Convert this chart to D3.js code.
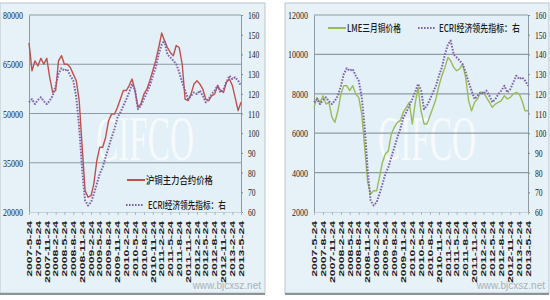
<!DOCTYPE html>
<html>
<head>
<meta charset="utf-8">
<script src="https://cdn.jsdelivr.net/npm/d3@7"></script>
<style>
  body { margin: 0; background: #fff; }
</style>
</head>
<body>
<div id="svgWrapper"></div>
<script>
const width = 550;
const height = 300;

// quarterly tick labels on the date axis
const tickLabels = [
    "2007-5-24", "2007-8-24", "2007-11-24", "2008-2-24", "2008-5-24", "2008-8-24",
    "2008-11-24", "2009-2-24", "2009-5-24", "2009-8-24", "2009-11-24", "2010-2-24",
    "2010-5-24", "2010-8-24", "2010-11-24", "2011-2-24", "2011-5-24", "2011-8-24",
    "2011-11-24", "2012-2-24", "2012-5-24", "2012-8-24", "2012-11-24", "2013-2-24",
    "2013-5-24"
];

// monthly readings, 2007-5 .. 2013-5
const shfeCopper = [
    71500, 63000, 66000, 64500, 66800, 65000, 66800, 61000, 56400, 57000, 66000, 67600,
    65000, 65000, 64000, 62000, 60000, 53900, 39700, 26500, 24500, 25000, 28500, 35600,
    39700, 39700, 42700, 47800, 49800, 49800, 51900, 54400, 57000, 57000, 58500, 60500,
    57000, 51900, 52900, 55900, 57400, 60000, 63000, 66100, 70100, 74500, 72200, 70100,
    68600, 67600, 70700, 70100, 65000, 54400, 53900, 55900, 59000, 60000, 59000, 57400,
    54400, 53900, 55400, 55900, 58500, 57000, 56400, 59500, 60500, 58500, 54900, 50900,
    53400
];

const lmeCopper = [
    7310, 7820, 7560, 7900, 7480, 7560, 6800, 6550, 7140, 7990, 8410, 8410,
    8160, 8410, 7990, 7820, 6975, 5280, 3500, 2910, 3080, 3080, 3760, 4520,
    4940, 5110, 5960, 6300, 6550, 6640, 7060, 7310, 7560, 6470, 7480, 8330,
    7140, 6470, 6470, 6890, 7310, 7740, 8410, 8920, 9340, 9850, 9680, 9340,
    9170, 9260, 9510, 8840, 7650, 7140, 7570, 7740, 8075, 8075, 7820, 7570,
    7310, 7480, 7570, 7650, 7905, 7740, 7820, 7990, 8075, 7990, 7650, 7140,
    7140
];

const ecriIndex = [
    115.7, 117.3, 114.8, 116.8, 118.2, 116.2, 114.8, 116.5, 119.0, 124.1, 130.0, 133.0,
    131.7, 132.5, 129.2, 126.7, 118.2, 103.0, 81.0, 65.8, 63.3, 65.0, 69.1, 74.2,
    79.3, 82.7, 87.8, 92.8, 97.9, 102.1, 108.0, 110.6, 114.0, 117.3, 120.7, 125.0,
    122.0, 112.2, 114.0, 117.3, 120.7, 124.0, 129.2, 133.4, 140.1, 145.0, 147.0, 140.0,
    138.5, 136.8, 135.1, 131.0, 125.8, 121.6, 117.3, 119.0, 120.7, 119.9, 121.6, 119.0,
    115.7, 117.3, 119.9, 121.6, 124.1, 120.7, 122.4, 125.8, 129.2, 127.5, 128.4, 126.7,
    124.1
];

const leftTicksA = [20000, 35000, 50000, 65000, 80000];
const leftTicksB = [2000, 4000, 6000, 8000, 10000, 12000];
const rightTicks = [60, 70, 80, 90, 100, 110, 120, 130, 140, 150, 160];

const parse = d3.timeParse("%Y-%m-%d");
const tickDates = tickLabels.map(parse);
const months = ecriIndex.map((d, i) => d3.timeMonth.offset(tickDates[0], i));

const svg = d3.select("#svgWrapper")
    .append("svg")
    .attr("width", width)
    .attr("height", height);

svg.append("rect")
    .attr("width", width)
    .attr("height", height)
    .attr("fill", "#fff");

const gridColor = "#8d9ca4";
const plotTop = 15, plotBottom = 212;

function squeeze(sel, perChar) {
    sel.attr("textLength", function() { return this.textContent.length * perChar; })
        .attr("lengthAdjust", "spacingAndGlyphs");
}

function drawPanel(p) {
    const g = svg.append("g");

    // panel background + bottom shadow
    g.append("rect")
        .attr("x", p.px).attr("y", 3)
        .attr("width", p.pw).attr("height", 290)
        .attr("fill", "#e7f2f8")
        .attr("stroke", "#b9c6cc");
    g.append("line")
        .attr("x1", p.px).attr("x2", p.px + p.pw)
        .attr("y1", 294).attr("y2", 294)
        .attr("stroke", "#8e9396").attr("stroke-width", 2);

    const x = d3.scaleTime().domain([tickDates[0], tickDates[tickDates.length - 1]]).range([p.left, p.right]);
    const yL = d3.scaleLinear().domain(d3.extent(p.leftTicks)).range([plotBottom, plotTop]);
    const yR = d3.scaleLinear().domain([60, 160]).range([plotBottom, plotTop]);

    // plot area
    g.append("rect")
        .attr("x", p.left).attr("y", plotTop)
        .attr("width", p.right - p.left).attr("height", plotBottom - plotTop)
        .attr("fill", "#e3f0f7");

    // watermark, squeezed horizontally
    g.append("text")
        .attr("transform", `translate(${p.wmX},160) scale(0.52,1)`)
        .attr("font-family", "Liberation Serif")
        .attr("font-size", 64)
        .attr("fill", "#fff")
        .attr("opacity", 0.7)
        .text("CIFCO");

    // horizontal gridlines
    g.append("g").selectAll("line")
        .data(p.leftTicks.slice(1))
        .join("line")
        .attr("x1", p.left).attr("x2", p.right)
        .attr("y1", d => yL(d)).attr("y2", d => yL(d))
        .attr("stroke", gridColor)
        .attr("stroke-width", 1.2);

    // left axis
    const axL = g.append("g")
        .attr("transform", `translate(${p.left},0)`)
        .call(d3.axisLeft(yL).tickValues(p.leftTicks).tickSize(0).tickPadding(6).tickFormat(d3.format("d")));
    axL.select(".domain").attr("stroke", gridColor);
    axL.selectAll("text")
        .attr("font-family", "Liberation Serif")
        .attr("font-size", 11)
        .attr("fill", "#222")
        .call(squeeze, 4);

    // right axis
    const axR = g.append("g")
        .attr("transform", `translate(${p.right},0)`)
        .call(d3.axisRight(yR).tickValues(rightTicks).tickSize(2).tickPadding(5));
    axR.select(".domain").attr("stroke", gridColor);
    axR.selectAll(".tick line").attr("stroke", "#7d8a90");
    axR.selectAll("text")
        .attr("font-family", "Liberation Serif")
        .attr("font-size", 11)
        .attr("fill", "#222")
        .call(squeeze, 3.8);

    // date axis
    const axX = g.append("g")
        .attr("transform", `translate(0,${plotBottom})`)
        .call(d3.axisBottom(x).tickValues(tickDates).tickSize(3).tickFormat((d, i) => tickLabels[i]));
    axX.select(".domain").attr("stroke", "#c4d3da");
    axX.selectAll(".tick line").attr("stroke", "#a9b7be");
    axX.selectAll("text")
        .attr("transform", "rotate(-90)")
        .attr("x", -9).attr("y", 0).attr("dy", "0.35em")
        .style("text-anchor", "end")
        .attr("font-family", "Liberation Sans")
        .attr("font-weight", "bold")
        .attr("font-size", 6.5)
        .attr("fill", "#222")
        .call(squeeze, 6.2);

    // series
    p.series.forEach(s => {
        const y = s.axis === "right" ? yR : yL;
        const line = d3.line()
            .x((d, i) => x(months[i]))
            .y(d => y(d));
        g.append("path")
            .datum(s.values)
            .attr("d", line)
            .attr("fill", "none")
            .attr("stroke", s.color)
            .attr("stroke-width", s.dash ? 2 : 1.4)
            .attr("stroke-dasharray", s.dash || null)
            .attr("stroke-linejoin", "round");
    });

    // legend (text squeezed with a scale so it keeps its real box)
    p.legend.forEach(l => {
        g.append("line")
            .attr("x1", l.x).attr("x2", l.x + l.len)
            .attr("y1", l.y).attr("y2", l.y)
            .attr("stroke", l.color)
            .attr("stroke-width", 2)
            .attr("stroke-dasharray", l.dash || null);
        const t = g.append("text")
            .attr("dy", "0.36em")
            .attr("font-family", "Noto Sans CJK SC")
            .attr("font-size", 10)
            .attr("font-weight", 500)
            .attr("fill", "#1a1a1a")
            .text(l.label);
        const sx = l.tw / t.node().getComputedTextLength();
        t.attr("transform", `translate(${l.tx},${l.y}) scale(${sx},1)`);
    });

    // site watermark
    g.append("text")
        .attr("x", p.px + p.pw - 4).attr("y", 289)
        .attr("text-anchor", "end")
        .attr("font-family", "Liberation Sans")
        .attr("font-size", 10)
        .attr("fill", "#9aa3a8")
        .attr("opacity", 0.8)
        .text("www.bjcxsz.net");
}

drawPanel({
    px: 0, pw: 265, left: 29, right: 241, wmX: 96,
    leftTicks: leftTicksA,
    series: [
        { values: shfeCopper, color: "#c0504d" },
        { values: ecriIndex, color: "#7f63a8", dash: "1.6,1.4", axis: "right" }
    ],
    legend: [
        { x: 127, len: 18, y: 180, color: "#c0504d", tx: 146, tw: 67, label: "沪铜主力合约价格" },
        { x: 126, len: 18, y: 205, color: "#7f63a8", dash: "1.6,1.4", tx: 148, tw: 78, label: "ECRI经济领先指标：右" }
    ]
});

drawPanel({
    px: 285, pw: 264, left: 314, right: 528, wmX: 378,
    leftTicks: leftTicksB,
    series: [
        { values: lmeCopper, color: "#9bbb59" },
        { values: ecriIndex, color: "#7f63a8", dash: "1.6,1.4", axis: "right" }
    ],
    legend: [
        { x: 328, len: 18, y: 28, color: "#9bbb59", tx: 347, tw: 54, label: "LME三月铜价格" },
        { x: 418, len: 17, y: 28, color: "#7f63a8", dash: "1.6,1.4", tx: 439, tw: 81, label: "ECRI经济领先指标：右" }
    ]
});
</script>
</body>
</html>
